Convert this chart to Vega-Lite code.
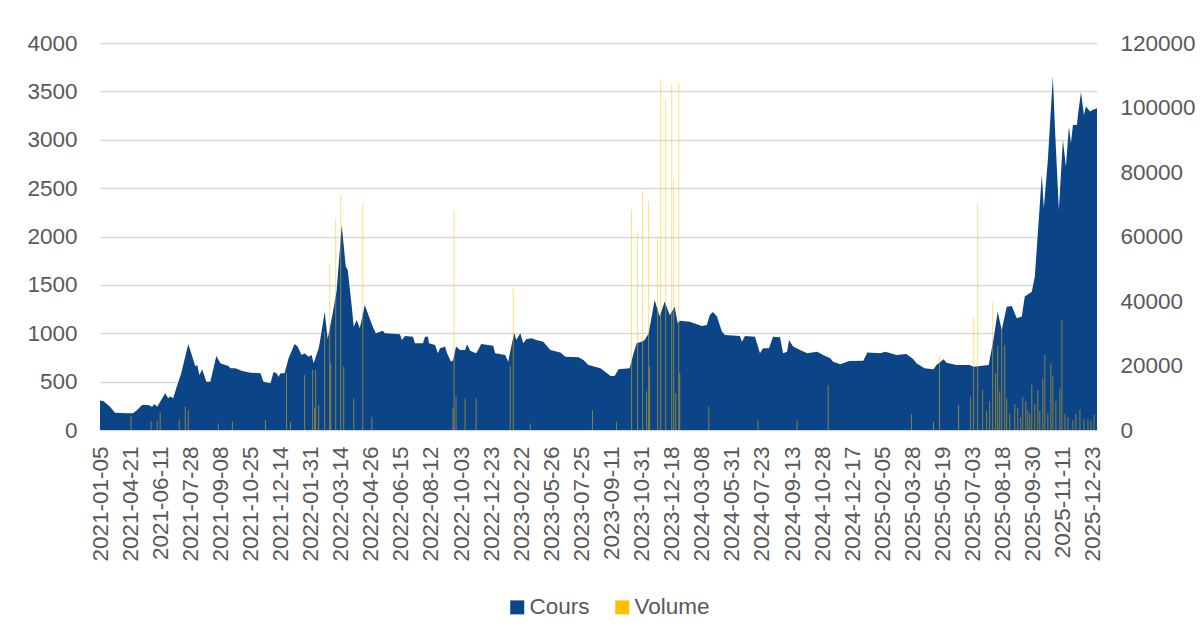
{
  "$schema": "https://vega.github.io/schema/vega-lite/v6.json",
  "width": 997,
  "height": 387,
  "autosize": "none",
  "padding": {"left": 100, "top": 43, "right": 103, "bottom": 205},
  "background": "white",
  "config": {
    "view": {"stroke": null},
    "font": "Liberation Sans",
    "axis": {"labelFont": "Liberation Sans", "labelColor": "#595959", "labelFontSize": 22.5, "ticks": false, "domain": false, "title": null}
  },
  "datasets": {
    "cours": [
      {"n": 0, "cours": 303}, {"n": 3, "cours": 303}, {"n": 10, "cours": 241}, {"n": 15, "cours": 179},
      {"n": 28, "cours": 172}, {"n": 33, "cours": 172}, {"n": 37, "cours": 207}, {"n": 42, "cours": 258},
      {"n": 48, "cours": 258}, {"n": 52, "cours": 241}, {"n": 54, "cours": 269}, {"n": 57, "cours": 241},
      {"n": 60, "cours": 293}, {"n": 65, "cours": 379}, {"n": 68, "cours": 327}, {"n": 70, "cours": 345},
      {"n": 73, "cours": 327}, {"n": 76, "cours": 431}, {"n": 81, "cours": 586}, {"n": 88, "cours": 889},
      {"n": 91, "cours": 793}, {"n": 95, "cours": 660}, {"n": 97, "cours": 672}, {"n": 99, "cours": 569},
      {"n": 102, "cours": 625}, {"n": 106, "cours": 500}, {"n": 110, "cours": 500}, {"n": 116, "cours": 765},
      {"n": 120, "cours": 689}, {"n": 128, "cours": 662}, {"n": 130, "cours": 638}, {"n": 135, "cours": 638},
      {"n": 141, "cours": 613}, {"n": 150, "cours": 593}, {"n": 160, "cours": 586}, {"n": 163, "cours": 500},
      {"n": 170, "cours": 483}, {"n": 173, "cours": 600}, {"n": 176, "cours": 586}, {"n": 178, "cours": 551},
      {"n": 180, "cours": 586}, {"n": 184, "cours": 586}, {"n": 188, "cours": 741}, {"n": 194, "cours": 889},
      {"n": 197, "cours": 862}, {"n": 201, "cours": 775}, {"n": 204, "cours": 793}, {"n": 208, "cours": 758},
      {"n": 211, "cours": 775}, {"n": 213, "cours": 689}, {"n": 218, "cours": 845}, {"n": 219, "cours": 896},
      {"n": 224, "cours": 1223}, {"n": 227, "cours": 940}, {"n": 232, "cours": 1206}, {"n": 236, "cours": 1448},
      {"n": 241, "cours": 2120}, {"n": 245, "cours": 1689}, {"n": 247, "cours": 1655}, {"n": 251, "cours": 1275},
      {"n": 253, "cours": 1068}, {"n": 256, "cours": 1137}, {"n": 259, "cours": 1051}, {"n": 264, "cours": 1292},
      {"n": 269, "cours": 1150}, {"n": 272, "cours": 1068}, {"n": 275, "cours": 1000}, {"n": 282, "cours": 1027},
      {"n": 284, "cours": 1000}, {"n": 299, "cours": 989}, {"n": 301, "cours": 930}, {"n": 304, "cours": 972},
      {"n": 312, "cours": 965}, {"n": 314, "cours": 896}, {"n": 322, "cours": 896}, {"n": 324, "cours": 965},
      {"n": 327, "cours": 965}, {"n": 328, "cours": 896}, {"n": 334, "cours": 879}, {"n": 337, "cours": 793},
      {"n": 339, "cours": 845}, {"n": 344, "cours": 862}, {"n": 346, "cours": 793}, {"n": 350, "cours": 706},
      {"n": 352, "cours": 720}, {"n": 355, "cours": 862}, {"n": 359, "cours": 827}, {"n": 364, "cours": 827},
      {"n": 366, "cours": 886}, {"n": 369, "cours": 820}, {"n": 375, "cours": 793}, {"n": 377, "cours": 827},
      {"n": 380, "cours": 889}, {"n": 392, "cours": 870}, {"n": 394, "cours": 793}, {"n": 404, "cours": 775},
      {"n": 407, "cours": 706}, {"n": 410, "cours": 862}, {"n": 413, "cours": 1006}, {"n": 415, "cours": 931},
      {"n": 419, "cours": 1000}, {"n": 422, "cours": 896}, {"n": 425, "cours": 938}, {"n": 430, "cours": 948},
      {"n": 435, "cours": 931}, {"n": 442, "cours": 913}, {"n": 449, "cours": 827}, {"n": 459, "cours": 800},
      {"n": 464, "cours": 758}, {"n": 477, "cours": 751}, {"n": 482, "cours": 724}, {"n": 487, "cours": 672},
      {"n": 499, "cours": 638}, {"n": 509, "cours": 558}, {"n": 513, "cours": 558}, {"n": 517, "cours": 627},
      {"n": 528, "cours": 638}, {"n": 532, "cours": 793}, {"n": 535, "cours": 896}, {"n": 540, "cours": 913},
      {"n": 543, "cours": 931}, {"n": 547, "cours": 1000}, {"n": 553, "cours": 1344}, {"n": 558, "cours": 1172},
      {"n": 563, "cours": 1327}, {"n": 568, "cours": 1189}, {"n": 573, "cours": 1275}, {"n": 576, "cours": 1103},
      {"n": 578, "cours": 1130}, {"n": 588, "cours": 1120}, {"n": 600, "cours": 1075}, {"n": 605, "cours": 1085},
      {"n": 608, "cours": 1189}, {"n": 611, "cours": 1220}, {"n": 615, "cours": 1177}, {"n": 620, "cours": 1017},
      {"n": 623, "cours": 982}, {"n": 638, "cours": 972}, {"n": 640, "cours": 913}, {"n": 643, "cours": 972},
      {"n": 653, "cours": 965}, {"n": 658, "cours": 793}, {"n": 661, "cours": 845}, {"n": 667, "cours": 845},
      {"n": 671, "cours": 965}, {"n": 678, "cours": 958}, {"n": 681, "cours": 793}, {"n": 685, "cours": 810},
      {"n": 687, "cours": 930}, {"n": 691, "cours": 862}, {"n": 698, "cours": 827}, {"n": 705, "cours": 793},
      {"n": 715, "cours": 810}, {"n": 721, "cours": 775}, {"n": 728, "cours": 741}, {"n": 731, "cours": 706},
      {"n": 738, "cours": 679}, {"n": 747, "cours": 713}, {"n": 761, "cours": 717}, {"n": 765, "cours": 800},
      {"n": 778, "cours": 793}, {"n": 783, "cours": 810}, {"n": 794, "cours": 775}, {"n": 804, "cours": 786},
      {"n": 811, "cours": 731}, {"n": 814, "cours": 689}, {"n": 822, "cours": 638}, {"n": 831, "cours": 627},
      {"n": 834, "cours": 672}, {"n": 841, "cours": 731}, {"n": 844, "cours": 696}, {"n": 854, "cours": 672},
      {"n": 867, "cours": 672}, {"n": 871, "cours": 655}, {"n": 886, "cours": 672}, {"n": 891, "cours": 950},
      {"n": 895, "cours": 1223}, {"n": 899, "cours": 1034}, {"n": 904, "cours": 1275}, {"n": 909, "cours": 1282},
      {"n": 914, "cours": 1155}, {"n": 919, "cours": 1172}, {"n": 922, "cours": 1379}, {"n": 929, "cours": 1430},
      {"n": 932, "cours": 1585}, {"n": 935, "cours": 2034}, {"n": 939, "cours": 2637}, {"n": 941, "cours": 2292},
      {"n": 945, "cours": 2792}, {"n": 950, "cours": 3653}, {"n": 952, "cours": 3136}, {"n": 956, "cours": 2275},
      {"n": 960, "cours": 2999}, {"n": 963, "cours": 2723}, {"n": 966, "cours": 3136}, {"n": 968, "cours": 2964},
      {"n": 970, "cours": 3153}, {"n": 974, "cours": 3153}, {"n": 975, "cours": 3257}, {"n": 978, "cours": 3492},
      {"n": 981, "cours": 3257}, {"n": 983, "cours": 3343}, {"n": 987, "cours": 3291}, {"n": 990, "cours": 3309},
      {"n": 994, "cours": 3326}
    ],
    "volume": [
      {"n": 31, "volume": 4400}, {"n": 51, "volume": 2700}, {"n": 57, "volume": 2700}, {"n": 60, "volume": 5400},
      {"n": 79, "volume": 3300}, {"n": 85, "volume": 7200}, {"n": 88, "volume": 6200}, {"n": 118, "volume": 2000},
      {"n": 132, "volume": 2700}, {"n": 165, "volume": 3100}, {"n": 186, "volume": 17600}, {"n": 190, "volume": 2500},
      {"n": 204, "volume": 17000}, {"n": 212, "volume": 18600}, {"n": 214, "volume": 6800}, {"n": 215, "volume": 18600},
      {"n": 218, "volume": 7750}, {"n": 224, "volume": 30500}, {"n": 229, "volume": 51700}, {"n": 230, "volume": 20700},
      {"n": 235, "volume": 65600}, {"n": 240, "volume": 72900}, {"n": 243, "volume": 19600}, {"n": 253, "volume": 9800},
      {"n": 262, "volume": 70600}, {"n": 271, "volume": 4100}, {"n": 352, "volume": 6700}, {"n": 353, "volume": 67700},
      {"n": 355, "volume": 10300}, {"n": 364, "volume": 9800}, {"n": 375, "volume": 9800}, {"n": 409, "volume": 19800},
      {"n": 412, "volume": 43900}, {"n": 429, "volume": 2000}, {"n": 491, "volume": 6200}, {"n": 515, "volume": 2500},
      {"n": 530, "volume": 68400}, {"n": 536, "volume": 61000}, {"n": 541, "volume": 74100}, {"n": 545, "volume": 12000},
      {"n": 547, "volume": 71000}, {"n": 548, "volume": 19600}, {"n": 556, "volume": 59900}, {"n": 559, "volume": 108700},
      {"n": 564, "volume": 102300}, {"n": 570, "volume": 107000}, {"n": 572, "volume": 77500}, {"n": 574, "volume": 11400},
      {"n": 577, "volume": 107500}, {"n": 578, "volume": 17600}, {"n": 607, "volume": 7200}, {"n": 656, "volume": 3000},
      {"n": 695, "volume": 2900}, {"n": 726, "volume": 14000}, {"n": 809, "volume": 4900}, {"n": 831, "volume": 2500},
      {"n": 837, "volume": 22900}, {"n": 856, "volume": 7800}, {"n": 868, "volume": 10300}, {"n": 871, "volume": 34900},
      {"n": 875, "volume": 70300}, {"n": 880, "volume": 12400}, {"n": 884, "volume": 6000}, {"n": 887, "volume": 9000},
      {"n": 890, "volume": 39500}, {"n": 893, "volume": 17600}, {"n": 895, "volume": 26000}, {"n": 897, "volume": 12000},
      {"n": 899, "volume": 32000}, {"n": 902, "volume": 26400}, {"n": 904, "volume": 9800}, {"n": 907, "volume": 5000},
      {"n": 912, "volume": 8000}, {"n": 915, "volume": 7000}, {"n": 918, "volume": 4000}, {"n": 920, "volume": 10300},
      {"n": 923, "volume": 9000}, {"n": 925, "volume": 6000}, {"n": 927, "volume": 5000}, {"n": 929, "volume": 14000},
      {"n": 932, "volume": 8000}, {"n": 935, "volume": 12400}, {"n": 937, "volume": 6000}, {"n": 940, "volume": 16000},
      {"n": 942, "volume": 23300}, {"n": 945, "volume": 5000}, {"n": 948, "volume": 20700}, {"n": 950, "volume": 16600},
      {"n": 953, "volume": 9000}, {"n": 957, "volume": 12900}, {"n": 959, "volume": 34100}, {"n": 962, "volume": 5000},
      {"n": 965, "volume": 4000}, {"n": 970, "volume": 3000}, {"n": 973, "volume": 5000}, {"n": 977, "volume": 6400},
      {"n": 981, "volume": 3500}, {"n": 985, "volume": 3500}, {"n": 988, "volume": 3000}, {"n": 991, "volume": 4700}
    ]
  },
  "encoding": {
    "x": {
      "field": "n", "type": "quantitative",
      "scale": {"domain": [0, 994], "nice": false, "zero": false},
      "axis": {
        "values": [0, 30, 60, 90, 120, 150, 180, 210, 240, 270, 300, 330, 360, 390, 420, 450, 480, 510, 540, 570, 600, 630, 660, 690, 720, 750, 780, 810, 840, 870, 900, 930, 960, 990],
        "labelExpr": "['2021-01-05','2021-04-21','2021-06-11','2021-07-28','2021-09-08','2021-10-25','2021-12-14','2022-01-31','2022-03-14','2022-04-26','2022-06-15','2022-08-12','2022-10-03','2022-12-23','2023-02-22','2023-05-26','2023-07-25','2023-09-11','2023-10-31','2023-12-18','2024-03-08','2024-05-31','2024-07-23','2024-09-13','2024-10-28','2024-12-17','2025-02-05','2025-03-28','2025-05-19','2025-07-03','2025-08-18','2025-09-30','2025-11-11','2025-12-23'][round(datum.value/30)]",
        "labelAngle": -90,
        "labelPadding": 16,
        "labelFlush": false,
        "labelOverlap": false,
        "labelBound": false,
        "grid": false
      }
    }
  },
  "layer": [
    {
      "data": {"name": "cours"},
      "mark": {"type": "area", "interpolate": "linear"},
      "encoding": {
        "y": {
          "field": "cours", "type": "quantitative",
          "scale": {"domain": [0, 4000], "nice": false},
          "axis": {"orient": "left", "format": "d", "values": [0, 500, 1000, 1500, 2000, 2500, 3000, 3500, 4000], "grid": true, "gridColor": "#D9D9D9", "gridWidth": 1.5, "labelPadding": 23}
        },
        "color": {
          "datum": "Cours", "type": "nominal",
          "scale": {"domain": ["Cours", "Volume"], "range": ["#0C4587", "#FFC000"]},
          "legend": {
            "orient": "none", "legendX": 406, "legendY": 553, "direction": "horizontal", "title": null,
            "labelFont": "Liberation Sans", "labelFontSize": 22.5, "labelColor": "#595959",
            "symbolType": "square", "symbolSize": 196, "symbolOpacity": 1, "symbolStrokeWidth": 0,
            "labelOffset": 1, "columnPadding": 21,
            "encode": {"symbols": {"update": {"fill": {"scale": "color", "field": "value"}, "stroke": {"value": "transparent"}, "opacity": {"value": 1}}}}
          }
        }
      }
    },
    {
      "data": {"name": "volume"},
      "mark": {"type": "rule", "strokeWidth": 1, "opacity": 0.5},
      "encoding": {
        "y": {
          "field": "volume", "type": "quantitative",
          "scale": {"domain": [0, 120000], "nice": false},
          "axis": {"orient": "right", "format": "d", "values": [0, 20000, 40000, 60000, 80000, 100000, 120000], "grid": false, "labelPadding": 23}
        },
        "y2": {"datum": 0},
        "color": {"datum": "Volume", "type": "nominal"}
      }
    }
  ],
  "resolve": {"scale": {"y": "independent"}}
}
